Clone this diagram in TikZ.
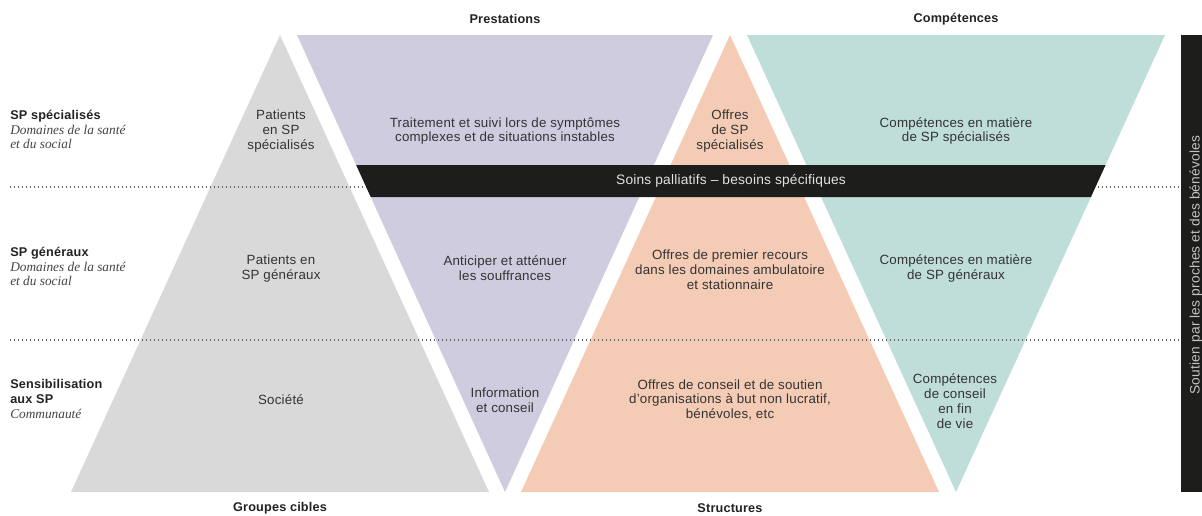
\documentclass[tikz,border=0pt]{standalone}
\usepackage{fontspec}
\setmainfont{Liberation Sans}[LetterSpace=1.5]
\newfontfamily\itserif{Liberation Serif}
\usetikzlibrary{calc}
\definecolor{cgray}{HTML}{D9D9D9}
\definecolor{cpurple}{HTML}{CFCCE0}
\definecolor{corange}{HTML}{F4CBB4}
\definecolor{cteal}{HTML}{BFDDD9}
\definecolor{cblack}{HTML}{1D1D1B}
\definecolor{txt}{HTML}{333333}
\definecolor{hd}{HTML}{222222}
\definecolor{itc}{HTML}{444444}
\definecolor{dotc}{HTML}{666666}
\definecolor{bandtxt}{HTML}{E2E2E2}
\definecolor{bartxt}{HTML}{C4C4C4}
\begin{document}
\begin{tikzpicture}[x=0.75pt,y=-0.75pt,
  body/.style={font=\fontsize{10}{11.2}\selectfont, text=txt, align=center, inner sep=0pt},
  head/.style={font=\fontsize{9.5}{11}\selectfont\bfseries, text=hd, inner sep=0pt},
  lblb/.style={anchor=base west, inner sep=0pt, font=\fontsize{9.5}{11}\selectfont\bfseries, text=hd},
  lbli/.style={anchor=base west, inner sep=0pt, font=\fontsize{10}{11}\selectfont\itserif\itshape, text=itc},
  dots/.style={line width=0.9pt, dash pattern=on 0.9pt off 2.1pt, draw=dotc}]

\useasboundingbox (0,0) rectangle (1202,515);
\fill[white] (0,0) rectangle (1202,515);

% corner points of the four triangles
\coordinate (gA) at (280,35);  \coordinate (gL) at (71,492);   \coordinate (gR) at (489,492);
\coordinate (pL) at (297,35);  \coordinate (pR) at (713,35);   \coordinate (pA) at (505,492);
\coordinate (oA) at (730,35);  \coordinate (oL) at (521,492);  \coordinate (oR) at (939,492);
\coordinate (tL) at (747,35);  \coordinate (tR) at (1165,35);  \coordinate (tA) at (956,492);

\fill[cgray]   (gA) -- (gL) -- (gR) -- cycle;
\fill[cpurple] (pL) -- (pR) -- (pA) -- cycle;
\fill[corange] (oA) -- (oL) -- (oR) -- cycle;
\fill[cteal]   (tL) -- (tR) -- (tA) -- cycle;

% dotted separators
\coordinate (d1a) at (10,187);  \coordinate (d1b) at (1180,187);
\coordinate (d2a) at (10,340);  \coordinate (d2b) at (1180,340);
\draw[dots] (d1a) -- (d1b);
\draw[dots] (d2a) -- (d2b);

% black band
\fill[cblack] ($(pL)!0.2845!(pA)$) -- ($(tR)!0.2845!(tA)$) -- ($(tR)!0.3545!(tA)$) -- ($(pL)!0.3545!(pA)$) -- cycle;
\node[font=\fontsize{10.3}{11}\selectfont, text=bandtxt, inner sep=0pt] (band) at (731,181) {Soins palliatifs – besoins spécifiques};

% right bar
\fill[cblack] (1181,35) rectangle (1210,492);
\node[rotate=90, font=\fontsize{10.3}{11}\selectfont, text=bartxt, inner sep=0pt] (bar) at (1196,265) {Soutien par les proches et des bénévoles};

% headers
\node[head] (h1) at (505,19) {Prestations};
\node[head] (h2) at (956,19) {Compétences};
\node[head] (h3) at (280,508) {Groupes cibles};
\node[head] (h4) at (730,508) {Structures};

% left labels
\node[lblb] (a1) at (10,119) {SP spécialisés};
\node[lbli] (a2) at (10,134) {Domaines de la santé};
\node[lbli] (a3) at (10,148) {et du social};
\node[lblb] (b1) at (10,256) {SP généraux};
\node[lbli] (b2) at (10,271) {Domaines de la santé};
\node[lbli] (b3) at (10,285) {et du social};
\node[lblb] (c1) at (10,388) {Sensibilisation};
\node[lblb] (c2) at (10,403) {aux SP};
\node[lbli] (c3) at (10,418) {Communauté};

% gray triangle texts
\node[body] (g1) at (281,131) {Patients\\en SP\\spécialisés};
\node[body] (g2) at (281,269) {Patients en\\SP généraux};
\node[body] (g3) at (281,400) {Société};

% purple texts
\node[body] (p1) at (505,131) {Traitement et suivi lors de symptômes\\complexes et de situations instables};
\node[body] (p2) at (505,268) {Anticiper et atténuer\\les souffrances};
\node[body] (p3) at (505,400) {Information\\et conseil};

% orange texts
\node[body] (o1) at (730,131) {Offres\\de SP\\spécialisés};
\node[body] (o2) at (730,270) {Offres de premier recours\\dans les domaines ambulatoire\\et stationnaire};
\node[body] (o3) at (730,400) {Offres de conseil et de soutien\\d’organisations à but non lucratif,\\bénévoles, etc};

% teal texts
\node[body] (t1) at (956,131) {Compétences en matière\\de SP spécialisés};
\node[body] (t2) at (956,268) {Compétences en matière\\de SP généraux};
\node[body] (t3) at (955,401) {Compétences\\de conseil\\en fin\\de vie};
\end{tikzpicture}
\end{document}
